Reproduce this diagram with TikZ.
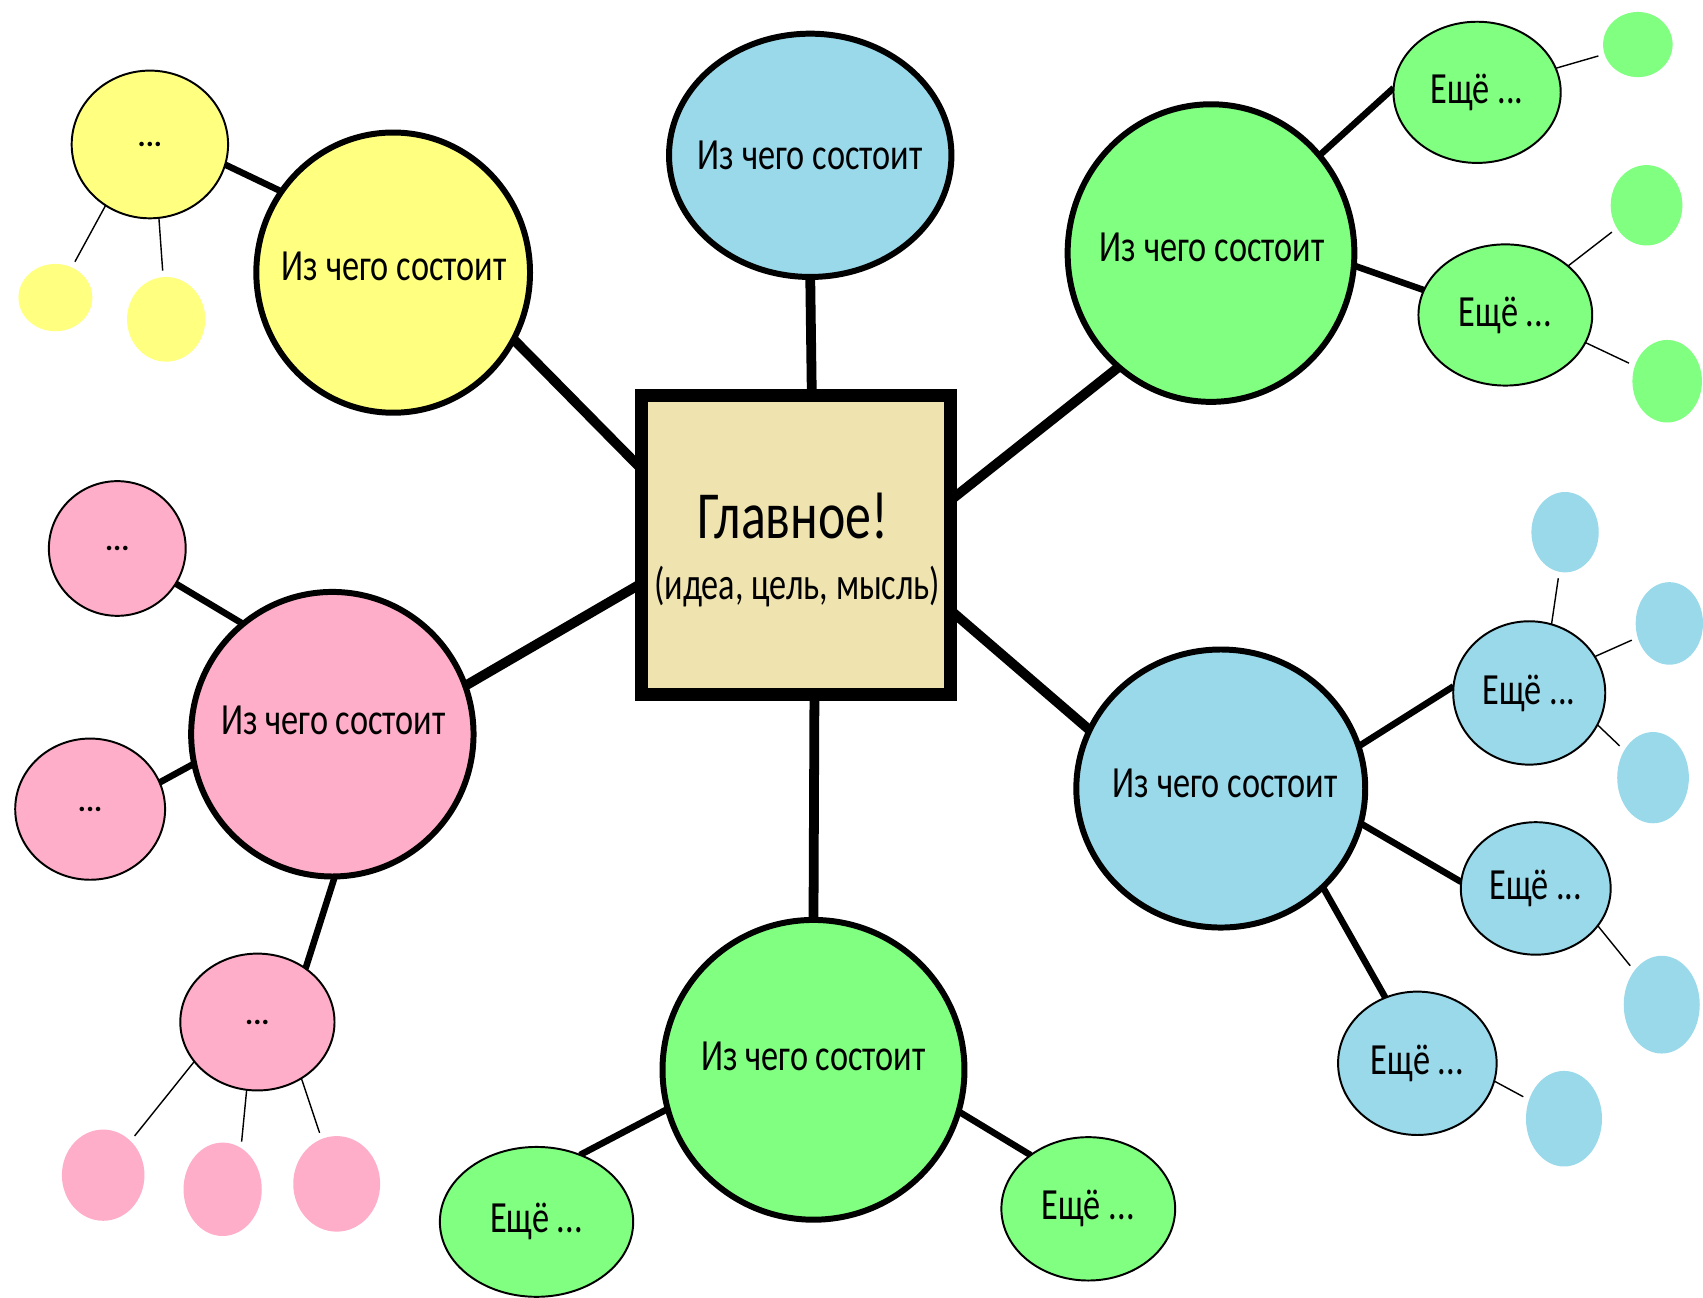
\documentclass[tikz,border=0pt]{standalone}
\usepackage{fontspec}
\newfontfamily\cf[FakeStretch=0.77]{Carlito}
\newfontfamily\cfs[FakeStretch=0.75]{Carlito}
\newfontfamily\cfn{Carlito}
\usetikzlibrary{shapes.geometric,backgrounds}
\definecolor{cblue}{HTML}{99D9EA}
\definecolor{cyellow}{HTML}{FFFF80}
\definecolor{cgreen}{HTML}{80FF80}
\definecolor{cpink}{HTML}{FFAEC9}
\definecolor{ctan}{HTML}{EFE4B0}
\begin{document}
\begin{tikzpicture}[x=1pt,y=-1pt,
  big/.style={ellipse,draw=black,line width=5.5pt,inner sep=0pt,outer sep=0pt},
  small/.style={ellipse,draw=black,line width=1.8pt,inner sep=0pt,outer sep=0pt,
    font=\cf\fontsize{41}{45}\selectfont},
  dotsnode/.style={small,font=\cfn\bfseries\fontsize{28}{30}\selectfont},
  blob/.style={ellipse,draw=none,inner sep=0pt,outer sep=0pt},
  mainline/.style={line width=9pt},
  subline/.style={line width=6pt},
  thinline/.style={line width=1.3pt,shorten >=6pt},
  lbl/.style={font=\cf\fontsize{41}{45}\selectfont,inner sep=0pt}
]
\useasboundingbox (0,0) rectangle (1568,1195);

% central box
\node[draw=black,line width=12pt,fill=ctan,minimum width=284pt,minimum height=275pt,
  inner sep=0pt,outer sep=0pt] (box) at (733,501.5) {};
\node[inner sep=0pt,font=\cf\fontsize{62}{66}\selectfont] (boxt1) at (730,475) {Главное!};
\node[inner sep=0pt,font=\cfs\fontsize{42}{46}\selectfont] (boxt2) at (734,540) {(идеа, цель, мысль)};

% top blue
\node[big,fill=cblue,minimum width=260pt,minimum height=224pt] (tb) at (746,143) {};
\node[lbl] (tbt) at (746,143) {Из чего состоит};

% yellow
\node[big,fill=cyellow,minimum width=252pt,minimum height=258pt] (ybig) at (362,251) {};
\node[lbl] (ybigt) at (363,245) {Из чего состоит};
\node[dotsnode,fill=cyellow,minimum width=144pt,minimum height=136pt] (ys) at (138,133) {...};
\node[blob,fill=cyellow,minimum width=68pt,minimum height=62pt] (yb1) at (51,274) {};
\node[blob,fill=cyellow,minimum width=72pt,minimum height=78pt] (yb2) at (153,294) {};

% green top right
\node[big,fill=cgreen,minimum width=264pt,minimum height=274pt] (gbig) at (1115,233) {};
\node[lbl] (gbigt) at (1116,228) {Из чего состоит};
\node[small,fill=cgreen,minimum width=154pt,minimum height=130pt] (ge1) at (1360,85) {Ещё ...};
\node[small,fill=cgreen,minimum width=160pt,minimum height=130pt] (ge2) at (1386,290) {Ещё ...};
\node[blob,fill=cgreen,minimum width=64pt,minimum height=60pt] (gb1) at (1508,41) {};
\node[blob,fill=cgreen,minimum width=66pt,minimum height=74pt] (gb2) at (1516,189) {};
\node[blob,fill=cgreen,minimum width=64pt,minimum height=76pt] (gb3) at (1535,351) {};

% pink
\node[big,fill=cpink,minimum width=260pt,minimum height=262pt] (pbig) at (306,676) {};
\node[lbl] (pbigt) at (307,663) {Из чего состоит};
\node[dotsnode,fill=cpink,minimum width=126pt,minimum height=124pt] (pt) at (108,505) {...};
\node[dotsnode,fill=cpink,minimum width=138pt,minimum height=130pt] (pm) at (83,745) {...};
\node[dotsnode,fill=cpink,minimum width=142pt,minimum height=126pt] (pbt) at (237,941) {...};
\node[blob,fill=cpink,minimum width=76pt,minimum height=84pt] (pb1) at (95,1082) {};
\node[blob,fill=cpink,minimum width=72pt,minimum height=86pt] (pb2) at (205,1095) {};
\node[blob,fill=cpink,minimum width=80pt,minimum height=88pt] (pb3) at (310,1090) {};

% green bottom
\node[big,fill=cgreen,minimum width=278pt,minimum height=276pt] (gbot) at (749,985) {};
\node[lbl] (gbott) at (749,973) {Из чего состоит};
\node[small,fill=cgreen,minimum width=178pt,minimum height=138pt] (gl) at (494,1125) {Ещё ...};
\node[small,fill=cgreen,minimum width=160pt,minimum height=132pt] (gr) at (1002,1113) {Ещё ...};

% blue right
\node[big,fill=cblue,minimum width=266pt,minimum height=256pt] (rbig) at (1124,726) {};
\node[lbl] (rbigt) at (1128,721) {Из чего состоит};
\node[small,fill=cblue,minimum width=140pt,minimum height=132pt] (re1) at (1408,638) {Ещё ...};
\node[small,fill=cblue,minimum width=138pt,minimum height=122pt] (re2) at (1414,818) {Ещё ...};
\node[small,fill=cblue,minimum width=146pt,minimum height=132pt] (re3) at (1305,979) {Ещё ...};
\node[blob,fill=cblue,minimum width=62pt,minimum height=74pt] (rb1) at (1441,490) {};
\node[blob,fill=cblue,minimum width=62pt,minimum height=76pt] (rb2) at (1537,574) {};
\node[blob,fill=cblue,minimum width=66pt,minimum height=84pt] (rb3) at (1522,716) {};
\node[blob,fill=cblue,minimum width=70pt,minimum height=90pt] (rb4) at (1530,925) {};
\node[blob,fill=cblue,minimum width=70pt,minimum height=88pt] (rb5) at (1440,1030) {};

\begin{scope}[on background layer]
% main connectors
\draw[mainline] (ybig.-29.5) -- (box.154.4);
\draw[mainline] (tb.-90) -- (box.84.6);
\draw[mainline] (gbig.231.4) -- (box.16.6);
\draw[mainline] (pbig.20.4) -- (box.194.4);
\draw[mainline] (box.-83.8) -- (gbot.90);
\draw[mainline] (box.-23.5) -- (rbig.156.1);
% secondary connectors
\draw[subline] (ys.-15.2) -- (ybig.144.2);
\draw[subline] (gbig.42.9) -- (ge1.177.7);
\draw[subline] (gbig.-5.1) -- (ge2.163.9);
\draw[subline] (pt.-31.6) -- (pbig.129.2);
\draw[subline] (pm.21) -- (pbig.192.8);
\draw[subline] (pbig.-89.2) -- (pbt.48);
\draw[subline] (gbot.195.3) -- (gl.57);
\draw[subline] (gbot.-16.4) -- (gr.137.3);
\draw[subline] (rbig.17.2) -- (re1.175);
\draw[subline] (rbig.-14.5) -- (re2.175);
\draw[subline] (rbig.-44.4) -- (re3.116.2);
% thin connectors
\draw[thinline] (ys.234.9) -- (yb1);
\draw[thinline] (ys.-83.7) -- (yb2);
\draw[thinline] (ge1.17.8) -- (gb1);
\draw[thinline] (ge2.38) -- (gb2);
\draw[thinline] (ge2.-19.3) -- (gb3);
\draw[thinline] (pbt.212.2) -- (pb1);
\draw[thinline] (pbt.-99.9) -- (pb2.66);
\draw[thinline] (pbt.-52.7) -- (pb3);
\draw[thinline] (re1.72) -- (rb1);
\draw[thinline] (re1.29.6) -- (rb2);
\draw[thinline] (re1.-25.9) -- (rb3);
\draw[thinline] (re2.-31.2) -- (rb4);
\draw[thinline] (re3.-13.9) -- (rb5);
\end{scope}
\end{tikzpicture}
\end{document}
